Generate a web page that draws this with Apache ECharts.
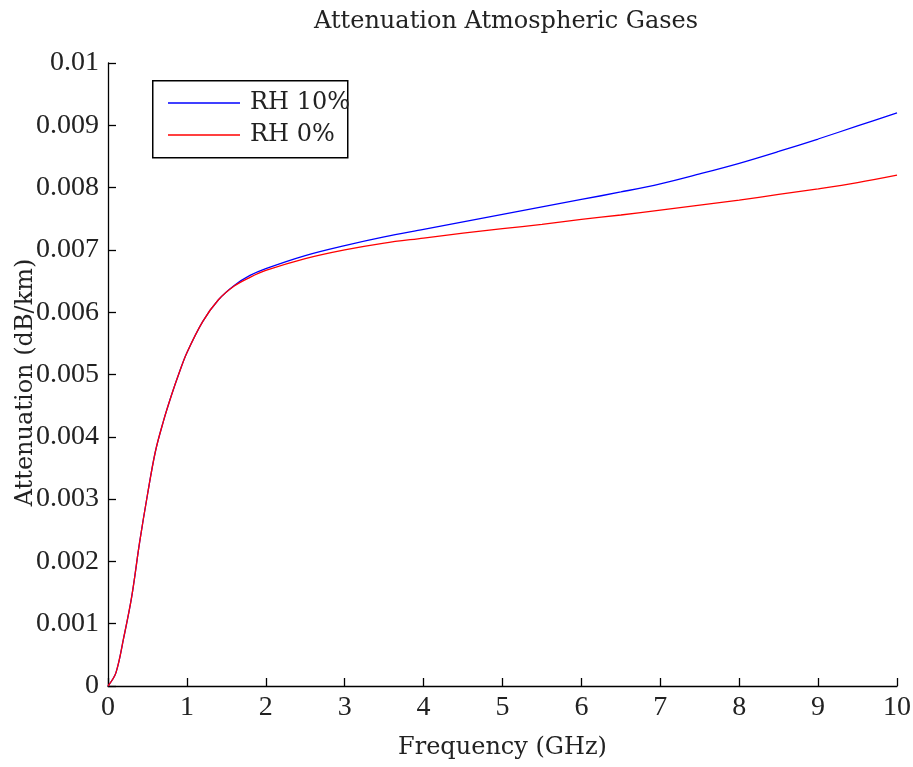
<!DOCTYPE html>
<html><head><meta charset="utf-8">
<script src="https://cdn.jsdelivr.net/npm/echarts@6/dist/echarts.min.js"></script>
<style>html,body{margin:0;padding:0;background:#fff}#c{width:913px;height:767px}</style>
</head><body><div id="c"></div>
<script>
const freqBlue = [0,0.1,0.2,0.3,0.4,0.5,0.6,0.7,0.8,0.9,1.0,1.2,1.4,1.6,1.8,2.0,2.5,3,3.5,4,4.5,5,5.5,6,6.5,7,7.5,8,8.5,9,9.5,10];
const rh10 = [0,0.00021,0.00078,0.00143,0.0023,0.00307,0.00376,0.00424,0.00465,0.00502,0.00535,0.00585,0.0062,0.00643,0.00659,0.0067,0.00691,0.00707,0.00721,0.00733,0.00745,0.00757,0.00769,0.00781,0.00793,0.00806,0.00822,0.00839,0.00858,0.00878,0.00899,0.0092];
const rh0  = [0,0.00021,0.00078,0.00143,0.0023,0.00307,0.00376,0.00424,0.00465,0.00502,0.00535,0.00585,0.0062,0.00642,0.00656,0.00667,0.00686,0.007,0.00711,0.00719,0.00727,0.00734,0.00741,0.00749,0.00756,0.00764,0.00772,0.0078,0.00789,0.00798,0.00808,0.0082];
const xTicks = [0,1,2,3,4,5,6,7,8,9,10];
const yTicks = [0,0.001,0.002,0.003,0.004,0.005,0.006,0.007,0.008,0.009,0.01];

const font = 'Liberation Serif';
const font2 = 'DejaVu Serif';
const chart = echarts.init(document.getElementById('c'), null, {renderer:'canvas'});
const axisCommon = {
  axisLine:{show:true,lineStyle:{color:'#000',width:1.3}},
  axisTick:{show:true,inside:true,length:8,lineStyle:{color:'#000',width:1.3}},
  splitLine:{show:false},
  axisLabel:{color:'#222',fontFamily:font,fontSize:28},
  nameTextStyle:{color:'#222',fontFamily:font2,fontSize:24}
};
chart.setOption({
  animation:false,
  backgroundColor:'#fff',
  title:{text:'Attenuation Atmospheric Gases',left:309,top:5,
    textStyle:{fontFamily:font2,fontSize:24,fontWeight:'normal',color:'#222'}},
  grid:{left:108,right:16,top:63,bottom:81,containLabel:false,outerBoundsMode:'none'},
  graphic:[{type:'rect',left:152,top:80,z:1,
    shape:{width:195,height:77},
    style:{fill:'#fff',stroke:'#000',lineWidth:1.5}}],
  legend:{orient:'vertical',left:152,top:80,z:5,
    padding:[11,10,9,16],itemGap:8,itemWidth:72,itemHeight:1.5,icon:'rect',
    textStyle:{fontFamily:font2,fontSize:24,color:'#222',padding:[0,0,0,5]},
    data:['RH 10%','RH 0%']},
  xAxis:Object.assign({},axisCommon,{type:'value',min:0,max:10,interval:1,
    name:'Frequency (GHz)',nameLocation:'middle',nameGap:50,nameMoveOverlap:false,
    axisLabel:Object.assign({},axisCommon.axisLabel,{margin:8,
      formatter:v=>xTicks.includes(v)?String(v):''})}),
  yAxis:Object.assign({},axisCommon,{type:'value',min:0,max:0.01,interval:0.001,
    name:'Attenuation (dB/km)',nameLocation:'middle',nameGap:70,nameRotate:90,nameMoveOverlap:false,
    nameTextStyle:Object.assign({},axisCommon.nameTextStyle,{padding:[0,16,0,0]}),
    axisLabel:Object.assign({},axisCommon.axisLabel,{margin:9,
      formatter:v=>{const t=yTicks.find(y=>Math.abs(y-v)<1e-9);return t===undefined?'':String(Number(t.toFixed(3)));}})}),
  series:[
    {name:'RH 10%',type:'line',symbol:'none',smooth:0.35,
      lineStyle:{color:'#0000ff',width:1.3},itemStyle:{color:'#0000ff'},
      data:freqBlue.map((f,i)=>[f,rh10[i]])},
    {name:'RH 0%',type:'line',symbol:'none',smooth:0.35,
      lineStyle:{color:'#ff0000',width:1.3},itemStyle:{color:'#ff0000'},
      data:freqBlue.map((f,i)=>[f,rh0[i]])}
  ]
});
</script></body></html>
